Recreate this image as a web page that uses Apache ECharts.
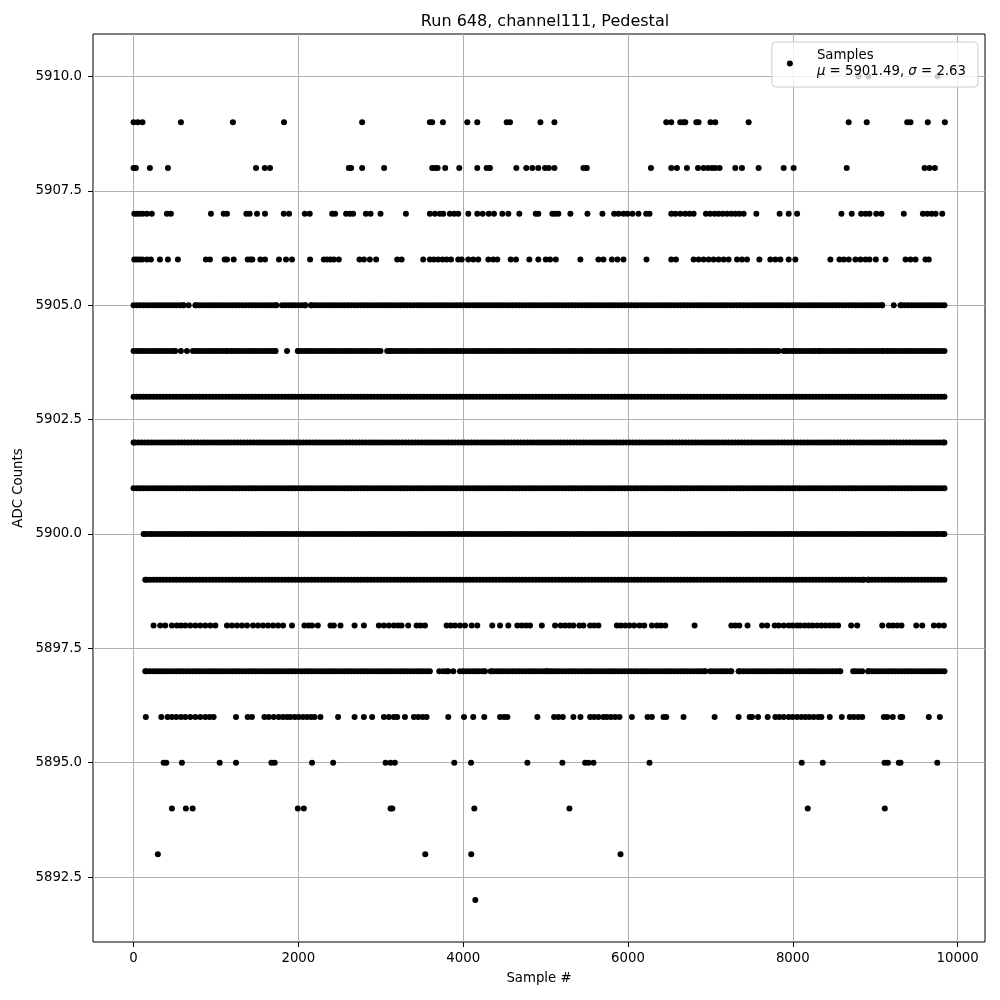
<!DOCTYPE html>
<html><head><meta charset="utf-8">
<script src="https://cdn.jsdelivr.net/npm/echarts@6/dist/echarts.min.js"></script>
<style>html,body{margin:0;padding:0;background:#fff}#c{width:1000px;height:1000px}</style>
</head><body><div id="c"></div>
<script>
// ---- tick labels ----
const xTicks = [0, 2000, 4000, 6000, 8000, 10000];
const yTicks = [5892.5, 5895.0, 5897.5, 5900.0, 5902.5, 5905.0, 5907.5, 5910.0];
const titleText = 'Run 648, channel111, Pedestal';
const seriesName = 'Samples';
const meanValue = 5901.49;
const sigmaValue = 2.63;

// ---- sample indices (x) observed at each ADC level ----
const lvl5910 = [8797, 8918, 9757];
const lvl5909 = [0,52,109,575,1206,1826,2774,3596,3624,3754,4050,4171,4528,4568,4937,5107,6464,6525,6634,6674,6695,6829,6856,7001,7059,7464,8678,8897,9388,9428,9638,9845];
const lvl5908 = [0,28,198,417,1486,1592,1656,2612,2640,2774,3041,3624,3657,3690,3782,3952,4171,4285,4325,4645,4766,4839,4912,4994,5039,5107,5459,5500,6278,6525,6594,6715,6849,6917,6970,7019,7059,7111,7302,7383,7585,7889,8010,8654,9599,9659,9724];
const lvl5907 = [9,40,73,113,162,222,405,453,939,1094,1134,1369,1409,1498,1595,1823,1887,2078,2138,2410,2446,2579,2624,2664,2819,2876,2997,3305,3596,3657,3718,3758,3839,3892,3940,4062,4171,4237,4310,4374,4475,4548,4681,4881,4912,5082,5115,5155,5301,5508,5690,5832,5884,5945,5993,6054,6127,6221,6261,6525,6574,6635,6695,6747,6796,6946,6998,7051,7099,7148,7201,7254,7302,7351,7403,7557,7840,7950,8052,8590,8715,8829,8882,8930,9012,9076,9347,9578,9631,9684,9732,9813];
const lvl5906 = [9,40,73,106,162,210,320,417,538,878,927,1106,1134,1215,1385,1418,1442,1539,1595,1765,1850,1923,2142,2309,2349,2390,2430,2491,2742,2795,2867,2944,3199,3253,3515,3596,3645,3697,3751,3799,3852,3940,3982,4062,4122,4183,4305,4365,4414,4577,4641,4803,4912,5002,5054,5124,5422,5641,5702,5804,5872,5945,6224,6525,6582,6796,6856,6917,6978,7038,7099,7160,7221,7323,7383,7444,7594,7727,7788,7849,7950,8031,8456,8566,8618,8679,8760,8821,8882,8930,9007,9125,9368,9428,9489,9610,9650];
const lvl5905 = [0,40,80,120,160,200,240,280,320,360,400,440,480,520,560,600,608,668,750,760,800,840,880,920,960,1000,1040,1080,1120,1160,1200,1240,1280,1320,1360,1400,1440,1480,1520,1560,1600,1640,1680,1720,1734,1802,1840,1880,1920,1960,2000,2040,2080,2086,2154,2160,2200,2240,2280,2320,2360,2400,2440,2480,2520,2560,2600,2640,2680,2720,2760,2800,2840,2880,2920,2960,3000,3040,3080,3120,3160,3200,3240,3280,3320,3360,3400,3440,3480,3520,3560,3600,3640,3680,3720,3760,3800,3840,3880,3920,3960,4000,4040,4080,4120,4160,4200,4240,4280,4320,4360,4400,4440,4480,4520,4560,4600,4640,4680,4720,4760,4800,4840,4880,4920,4960,5000,5040,5080,5120,5160,5200,5240,5280,5320,5360,5400,5440,5480,5520,5560,5600,5640,5680,5720,5760,5800,5840,5880,5920,5960,6000,6040,6080,6120,6160,6200,6240,6280,6320,6360,6400,6440,6480,6520,6560,6600,6640,6680,6720,6760,6800,6840,6880,6920,6960,7000,7040,7080,7120,7160,7200,7240,7280,7320,7360,7400,7440,7480,7520,7560,7600,7640,7680,7720,7760,7800,7840,7880,7920,7960,8000,8040,8080,8120,8160,8200,8240,8280,8320,8360,8400,8440,8480,8520,8560,8600,8640,8680,8720,8760,8800,8840,8880,8920,8960,9000,9040,9080,9085,9225,9307,9320,9360,9400,9440,9480,9520,9560,9600,9640,9680,9720,9760,9800,9840];
const lvl5904 = [0,40,80,120,160,200,240,280,320,360,400,440,480,507,575,648,720,760,800,840,880,920,960,1000,1040,1080,1120,1134,1175,1200,1240,1280,1320,1360,1400,1440,1480,1520,1560,1600,1640,1680,1720,1722,1863,1993,2000,2040,2080,2120,2160,2200,2240,2280,2320,2360,2400,2440,2480,2520,2560,2600,2640,2680,2720,2760,2800,2840,2880,2920,2960,2997,3078,3110,3120,3160,3200,3240,3280,3320,3360,3400,3440,3480,3520,3560,3600,3640,3680,3720,3760,3800,3840,3880,3920,3960,4000,4040,4080,4120,4160,4200,4240,4280,4320,4360,4400,4440,4480,4520,4560,4600,4640,4680,4720,4760,4800,4840,4880,4920,4960,5000,5040,5080,5120,5160,5200,5240,5280,5320,5360,5400,5440,5480,5520,5560,5600,5640,5680,5720,5760,5800,5840,5880,5920,5960,6000,6040,6080,6120,6160,6200,6240,6280,6320,6360,6400,6440,6480,6520,6560,6600,6640,6680,6720,6760,6800,6840,6880,6920,6960,7000,7040,7080,7120,7160,7200,7240,7280,7320,7360,7400,7440,7480,7520,7560,7600,7640,7680,7720,7760,7800,7828,7889,7920,7960,8000,8040,8080,8120,8160,8200,8240,8273,8314,8320,8360,8400,8440,8480,8520,8560,8600,8640,8680,8720,8760,8800,8840,8880,8920,8960,9000,9040,9080,9104,9145,9160,9200,9240,9280,9320,9360,9400,9440,9480,9520,9560,9600,9640,9680,9720,9760,9800,9840];
const lvl5903 = [0,40,80,120,160,200,240,280,320,360,400,440,480,520,560,600,640,680,720,760,800,840,880,920,960,1000,1040,1080,1120,1160,1200,1240,1280,1320,1360,1400,1440,1480,1520,1560,1600,1640,1680,1720,1760,1800,1840,1880,1920,1960,2000,2040,2080,2120,2160,2200,2240,2280,2320,2360,2400,2440,2480,2520,2560,2600,2640,2680,2720,2760,2800,2840,2880,2920,2960,3000,3040,3080,3120,3160,3200,3240,3280,3320,3360,3400,3440,3480,3520,3560,3600,3640,3680,3720,3760,3800,3840,3880,3920,3960,4000,4040,4080,4120,4160,4200,4240,4280,4320,4360,4400,4440,4480,4520,4560,4600,4640,4680,4720,4760,4800,4840,4880,4920,4960,5000,5040,5080,5120,5160,5200,5240,5280,5320,5360,5400,5440,5480,5520,5560,5600,5640,5680,5720,5760,5800,5840,5880,5920,5960,6000,6040,6080,6120,6160,6200,6240,6280,6320,6360,6400,6440,6480,6520,6560,6600,6640,6680,6720,6760,6800,6840,6880,6920,6960,7000,7040,7080,7120,7160,7200,7240,7280,7320,7360,7400,7440,7480,7520,7560,7600,7640,7680,7720,7760,7800,7840,7880,7920,7960,8000,8040,8080,8120,8160,8200,8240,8280,8320,8360,8400,8440,8480,8520,8560,8600,8640,8680,8720,8760,8800,8840,8880,8920,8960,9000,9040,9080,9120,9160,9200,9240,9280,9320,9360,9400,9440,9480,9520,9560,9600,9640,9680,9720,9760,9800,9840];
const lvl5902 = [0,20,60,100,140,180,220,260,300,340,380,420,460,500,540,580,620,660,700,740,780,820,860,900,940,980,1020,1060,1100,1140,1180,1220,1260,1300,1340,1380,1420,1460,1500,1540,1580,1620,1660,1700,1740,1780,1820,1860,1900,1940,1980,2020,2060,2100,2140,2180,2220,2260,2300,2340,2380,2420,2460,2500,2540,2580,2620,2660,2700,2740,2780,2820,2860,2900,2940,2980,3020,3060,3100,3140,3180,3220,3260,3300,3340,3380,3420,3460,3500,3540,3580,3620,3660,3700,3740,3780,3820,3860,3900,3940,3980,4020,4060,4100,4140,4180,4220,4260,4300,4340,4380,4420,4460,4500,4540,4580,4620,4660,4700,4740,4780,4820,4860,4900,4940,4980,5020,5060,5100,5140,5180,5220,5260,5300,5340,5380,5420,5460,5500,5540,5580,5620,5660,5700,5740,5780,5820,5860,5900,5940,5980,6020,6060,6100,6140,6180,6220,6260,6300,6340,6380,6420,6460,6500,6540,6580,6620,6660,6700,6740,6780,6820,6860,6900,6940,6980,7020,7060,7100,7140,7180,7220,7260,7300,7340,7380,7420,7460,7500,7540,7580,7620,7660,7700,7740,7780,7820,7860,7900,7940,7980,8020,8060,8100,8140,8180,8220,8260,8300,8340,8380,8420,8460,8500,8540,8580,8620,8660,8700,8740,8780,8820,8860,8900,8940,8980,9020,9060,9100,9140,9180,9220,9260,9300,9340,9380,9420,9460,9500,9540,9580,9620,9660,9700,9740,9780,9820,9840];
const lvl5901 = [0,40,80,120,160,200,240,280,320,360,400,440,480,520,560,600,640,680,720,760,800,840,880,920,960,1000,1040,1080,1120,1160,1200,1240,1280,1320,1360,1400,1440,1480,1520,1560,1600,1640,1680,1720,1760,1800,1840,1880,1920,1960,2000,2040,2080,2120,2160,2200,2240,2280,2320,2360,2400,2440,2480,2520,2560,2600,2640,2680,2720,2760,2800,2840,2880,2920,2960,3000,3040,3080,3120,3160,3200,3240,3280,3320,3360,3400,3440,3480,3520,3560,3600,3640,3680,3720,3760,3800,3840,3880,3920,3960,4000,4040,4080,4120,4160,4200,4240,4280,4320,4360,4400,4440,4480,4520,4560,4600,4640,4680,4720,4760,4800,4840,4880,4920,4960,5000,5040,5080,5120,5160,5200,5240,5280,5320,5360,5400,5440,5480,5520,5560,5600,5640,5680,5720,5760,5800,5840,5880,5920,5960,6000,6040,6080,6120,6160,6200,6240,6280,6320,6360,6400,6440,6480,6520,6560,6600,6640,6680,6720,6760,6800,6840,6880,6920,6960,7000,7040,7080,7120,7160,7200,7240,7280,7320,7360,7400,7440,7480,7520,7560,7600,7640,7680,7720,7760,7800,7840,7880,7920,7960,8000,8040,8080,8120,8160,8200,8240,8280,8320,8360,8400,8440,8480,8520,8560,8600,8640,8680,8720,8760,8800,8840,8880,8920,8960,9000,9040,9080,9120,9160,9200,9240,9280,9320,9360,9400,9440,9480,9520,9560,9600,9640,9680,9720,9760,9800,9840];
const lvl5900 = [122,140,180,220,260,300,340,380,420,460,500,540,580,620,660,700,740,780,820,860,900,940,980,1020,1060,1100,1140,1180,1220,1260,1300,1340,1380,1420,1460,1500,1540,1580,1620,1660,1700,1740,1780,1820,1860,1900,1940,1980,2020,2060,2100,2140,2180,2220,2260,2300,2340,2380,2420,2460,2500,2540,2580,2620,2660,2700,2740,2780,2820,2860,2900,2940,2980,3020,3060,3100,3140,3180,3220,3260,3300,3340,3380,3420,3460,3500,3540,3580,3620,3660,3700,3740,3780,3820,3860,3900,3940,3980,4020,4060,4100,4140,4180,4220,4260,4300,4340,4380,4420,4460,4500,4540,4580,4620,4660,4700,4740,4780,4820,4860,4900,4940,4980,5020,5060,5100,5140,5180,5220,5260,5300,5340,5380,5420,5460,5500,5540,5580,5620,5660,5700,5740,5780,5820,5860,5900,5940,5980,6020,6060,6100,6140,6180,6220,6260,6300,6340,6380,6420,6460,6500,6540,6580,6620,6660,6700,6740,6780,6820,6860,6900,6940,6980,7020,7060,7100,7140,7180,7220,7260,7300,7340,7380,7420,7460,7500,7540,7580,7620,7660,7700,7740,7780,7820,7860,7900,7940,7980,8020,8060,8100,8140,8180,8220,8260,8300,8340,8380,8420,8460,8500,8540,8580,8620,8660,8700,8740,8780,8820,8860,8900,8940,8980,9020,9060,9100,9140,9180,9220,9260,9300,9340,9380,9420,9460,9500,9540,9580,9620,9660,9700,9740,9780,9820,9840];
const lvl5899 = [142,160,200,240,280,320,360,400,440,480,520,560,600,640,680,720,760,800,840,880,920,960,1000,1040,1080,1120,1160,1200,1240,1280,1320,1360,1400,1440,1480,1520,1560,1600,1640,1680,1720,1760,1800,1840,1880,1920,1960,2000,2040,2080,2120,2160,2200,2240,2280,2320,2360,2400,2440,2480,2520,2560,2600,2640,2680,2720,2760,2800,2840,2880,2920,2960,3000,3040,3080,3120,3160,3200,3240,3280,3320,3360,3400,3440,3480,3520,3560,3600,3640,3680,3720,3760,3800,3840,3880,3920,3960,4000,4040,4080,4120,4160,4200,4240,4280,4320,4360,4400,4440,4480,4520,4560,4600,4640,4680,4720,4760,4800,4840,4880,4920,4960,5000,5040,5080,5120,5160,5200,5240,5280,5320,5360,5400,5440,5480,5520,5560,5600,5640,5680,5720,5760,5800,5840,5880,5920,5960,6000,6040,6080,6120,6160,6200,6240,6280,6320,6360,6400,6440,6480,6520,6560,6600,6640,6680,6720,6760,6800,6840,6880,6920,6960,7000,7040,7080,7120,7160,7200,7240,7280,7320,7360,7400,7440,7480,7520,7560,7600,7640,7680,7720,7760,7800,7840,7880,7920,7960,8000,8040,8080,8120,8160,8200,8240,8280,8320,8360,8400,8440,8480,8520,8560,8600,8640,8680,8720,8760,8800,8840,8861,8914,8920,8960,9000,9040,9080,9120,9160,9200,9240,9280,9320,9360,9400,9440,9480,9520,9560,9600,9640,9680,9720,9760,9800,9840];
const lvl5898 = [243,324,385,465,526,575,628,689,750,810,871,932,993,1134,1194,1255,1316,1377,1450,1510,1571,1632,1693,1753,1814,1923,2074,2126,2166,2236,2390,2430,2511,2682,2795,2977,3038,3098,3159,3211,3252,3333,3435,3483,3536,3799,3848,3900,3961,4022,4103,4171,4353,4447,4548,4657,4710,4763,4811,4954,5115,5184,5237,5289,5337,5410,5459,5540,5589,5641,5865,5913,5966,6018,6075,6140,6197,6290,6351,6399,6452,6808,7254,7302,7351,7451,7627,7688,7780,7828,7889,7950,7998,8052,8092,8144,8193,8241,8295,8347,8396,8448,8497,8550,8708,8781,9085,9165,9214,9267,9319,9498,9571,9711,9772,9833];
const lvl5897 = [142,160,200,240,280,320,360,400,440,480,520,560,600,640,680,720,760,800,840,880,920,960,1000,1040,1080,1120,1160,1200,1240,1280,1320,1360,1400,1440,1480,1520,1560,1600,1640,1680,1720,1760,1800,1840,1880,1920,1960,2000,2040,2080,2120,2160,2200,2240,2280,2320,2360,2400,2440,2480,2520,2560,2600,2640,2680,2720,2760,2800,2840,2880,2920,2960,3000,3040,3080,3120,3160,3200,3240,3280,3320,3360,3400,3440,3480,3520,3560,3596,3710,3760,3800,3819,3880,3961,4000,4040,4080,4120,4160,4200,4240,4265,4334,4360,4400,4440,4480,4520,4560,4600,4640,4680,4720,4760,4800,4840,4880,4920,4960,5000,5014,5046,5080,5120,5160,5200,5240,5280,5320,5360,5400,5440,5480,5520,5560,5600,5640,5680,5720,5760,5800,5840,5880,5920,5960,6000,6040,6080,6120,6160,6200,6240,6280,6320,6360,6400,6440,6480,6520,6560,6600,6640,6680,6720,6760,6800,6840,6880,6920,6938,6998,7040,7080,7120,7160,7200,7240,7254,7342,7360,7400,7440,7480,7520,7560,7600,7640,7680,7720,7760,7800,7840,7880,7920,7960,8000,8040,8080,8120,8160,8200,8240,8280,8320,8360,8400,8440,8480,8520,8560,8576,8732,8760,8800,8842,8914,8920,8960,9000,9040,9080,9120,9160,9200,9240,9280,9320,9360,9400,9440,9480,9520,9560,9600,9640,9680,9720,9760,9800,9840];
const lvl5896 = [149,337,413,465,519,575,628,689,750,810,871,923,972,1243,1385,1437,1588,1640,1701,1762,1814,1863,1904,1956,2005,2057,2106,2154,2196,2268,2482,2682,2795,2895,3038,3098,3159,3199,3293,3402,3454,3508,3556,3819,4010,4122,4256,4447,4496,4536,4900,5103,5155,5209,5337,5423,5540,5589,5641,5702,5743,5792,5844,5896,6047,6237,6290,6431,6464,6674,7051,7342,7476,7505,7578,7695,7788,7837,7889,7950,7998,8052,8104,8153,8201,8253,8307,8347,8448,8594,8691,8740,8793,8842,9104,9145,9213,9307,9328,9650,9784];
const lvl5895 = [365,397,587,1045,1243,1673,1713,2166,2422,3058,3119,3171,3892,4095,4779,5204,5480,5520,5581,6261,8108,8363,9113,9153,9286,9307,9753];
const lvl5894 = [465,635,717,1993,2066,3119,3140,4135,5289,8181,9116];
const lvl5893 = [295,3540,4098,5909];
const lvl5892 = [4147];

const levels = [
  [5910, lvl5910],[5909, lvl5909],[5908, lvl5908],[5907, lvl5907],[5906, lvl5906],
  [5905, lvl5905],[5904, lvl5904],[5903, lvl5903],[5902, lvl5902],[5901, lvl5901],
  [5900, lvl5900],[5899, lvl5899],[5898, lvl5898],[5897, lvl5897],[5896, lvl5896],
  [5895, lvl5895],[5894, lvl5894],[5893, lvl5893],[5892, lvl5892]
];
const points = [];
levels.forEach(([v, xs]) => xs.forEach(x => points.push([x, v])));

const FONT = 'DejaVu Sans';
const chart = echarts.init(document.getElementById('c'), null, {renderer: 'canvas'});
chart.setOption({
  animation: false,
  backgroundColor: '#fff',
  textStyle: {fontFamily: FONT},
  title: {
    text: titleText, left: 540, top: 9, textAlign: 'center',
    textStyle: {fontFamily: FONT, fontSize: 16, fontWeight: 'normal', color: '#000'}
  },
  grid: {left: 93, right: 15, top: 34, bottom: 58, show: true, borderColor: '#000', borderWidth: 1, backgroundColor: 'transparent'},
  legend: {
    data: [seriesName], right: 22, top: 42, orient: 'vertical',
    icon: 'circle', itemWidth: 6, itemHeight: 6,
    backgroundColor: 'rgba(255,255,255,0.8)', borderColor: '#cccccc', borderWidth: 1, borderRadius: 4,
    padding: [5, 12, 7, 15],
    formatter: () => '{sp|}' + seriesName + '\n{sp|}{i|μ} = ' + meanValue.toFixed(2) + ', {i|σ} = ' + sigmaValue.toFixed(2),
    textStyle: {
      fontFamily: FONT, fontSize: 13.3, color: '#000', lineHeight: 16.5,
      rich: {sp: {width: 19}, i: {fontStyle: 'italic', fontFamily: FONT, fontSize: 13.3, lineHeight: 16.5}}
    }
  },
  xAxis: {
    type: 'value', min: -492, max: 10332,
    name: 'Sample #', nameLocation: 'middle', nameGap: 30,
    nameTextStyle: {fontFamily: FONT, fontSize: 13.3, color: '#000'},
    axisLine: {show: false, onZero: false},
    axisTick: {show: true, length: 5, lineStyle: {color: '#000', width: 1}, customValues: xTicks},
    axisLabel: {customValues: xTicks, margin: 10, color: '#000', fontSize: 13.3, fontFamily: FONT, formatter: v => String(v)},
    splitLine: {show: true, lineStyle: {color: '#b0b0b0', width: 1}}
  },
  yAxis: {
    type: 'value', min: 5891.08, max: 5910.93,
    name: 'ADC Counts', nameLocation: 'middle', nameGap: 63,
    nameTextStyle: {fontFamily: FONT, fontSize: 13.3, color: '#000'},
    axisLine: {show: false, onZero: false},
    axisTick: {show: true, length: 5, lineStyle: {color: '#000', width: 1}, customValues: yTicks},
    axisLabel: {customValues: yTicks, margin: 11, color: '#000', fontSize: 13.3, fontFamily: FONT, formatter: v => Number(v).toFixed(1)},
    splitLine: {show: true, lineStyle: {color: '#b0b0b0', width: 1}}
  },
  series: [{
    name: seriesName, type: 'scatter', data: points,
    symbol: 'circle', symbolSize: 6,
    itemStyle: {color: '#000', opacity: 1},
    large: false, silent: true
  }]
});
</script>
</body></html>
